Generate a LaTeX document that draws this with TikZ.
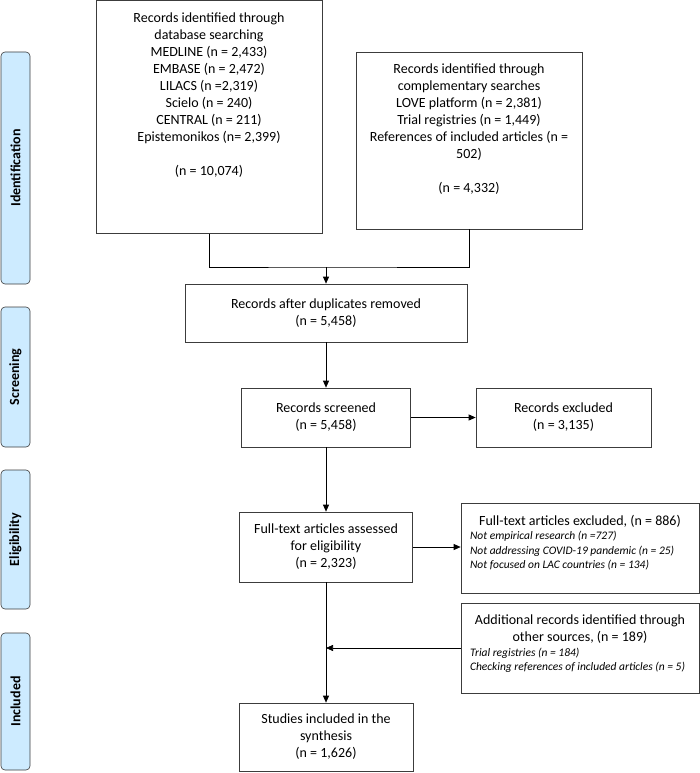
\documentclass[tikz,border=0pt]{standalone}
\usepackage{fontspec}
\setmainfont{Carlito}
\usetikzlibrary{positioning, arrows.meta}
\definecolor{sideblue}{RGB}{205,235,255}
\definecolor{boxline}{RGB}{60,60,60}
\newcommand{\notefont}{\fontsize{11.5}{14.5}\selectfont\itshape\raggedright}

\begin{document}
\begin{tikzpicture}[x=1pt, y=-1pt,
			box/.style={draw=boxline, line width=0.7pt, align=center, inner sep=0pt, font=\fontsize{14}{17}\selectfont},
			phase/.style={draw=boxline, fill=sideblue, line width=0.6pt, rounded corners=4pt, rotate=90, minimum height=29pt, inner sep=0pt, font=\fontsize{14}{17}\selectfont\bfseries},
			every path/.style={line width=0.7pt},
			->, >={Triangle[width=6pt,length=7pt]},
			]
			\useasboundingbox (0,0) rectangle (700,773);
			
			% Phasen
			\node[phase, minimum width=232pt] (Identification) at (15.5,168) {Identification};
			\node[phase, minimum width=140pt] (Screening) at (15.5,377) {Screening};
			\node[phase, minimum width=139pt] (Eligibility) at (15.5,539.5) {Eligibility};
			\node[phase, minimum width=137pt] (Included) at (15.5,701.5) {Included};
			
			% Kästen
			\node[box, minimum width=226pt, minimum height=233pt] (Database) at (209,117) {\parbox[c][209pt][t]{226pt}{\centering
				Records identified through\\ database searching\\ MEDLINE (n = 2,433)\\ EMBASE (n = 2,472)\\ LILACS (n =2,319)\\ Scielo (n = 240)\\ CENTRAL (n = 211)\\ Epistemonikos (n= 2,399)\\[17pt] (n = 10,074)}};
			\node[box, minimum width=226pt, minimum height=177pt] (Complementary) at (469,140.5) {\parbox[c][153pt][t]{226pt}{\centering
				Records identified through\\ complementary searches\\ LOVE platform (n = 2,381)\\ Trial registries (n = 1,449)\\ References of included articles (n =\\ 502)\\[17pt] (n = 4,332)}};
			\node[box, minimum width=282pt, minimum height=58pt] (Duplicates) at (326,313) {Records after duplicates removed\\ (n = 5,458)};
			\node[box, minimum width=169pt, minimum height=59pt] (Screened) at (326,417.5) {Records screened\\ (n = 5,458)};
			\node[box, minimum width=175pt, minimum height=59pt] (Excluded) at (563.5,417.5) {Records excluded\\ (n = 3,135)};
			\node[box, minimum width=173pt, minimum height=70pt] (Assessed) at (326,547) {Full-text articles assessed\\ for eligibility\\ (n = 2,323)};
			\node[box, minimum width=238pt, minimum height=90pt] (FulltextExcluded) at (580,548) {\parbox[c][66pt][t]{220pt}{{\centering
				Full-text articles excluded, (n = 886)\par}\notefont
				\mbox{Not empirical research (n =727)}\\ \mbox{Not addressing COVID-19 pandemic (n = 25)}\\ \mbox{Not focused on LAC countries (n = 134)}}};
			\node[box, minimum width=238pt, minimum height=90pt] (Additional) at (580,648) {\parbox[c][66pt][t]{220pt}{{\centering
				Additional records identified through\\ other sources, (n = 189)\par}\notefont
				\mbox{Trial registries (n = 184)}\\ \mbox{Checking references of included articles (n = 5)}}};
			\node[box, minimum width=174pt, minimum height=68pt] (Synthesis) at (326,737) {Studies included in the\\ synthesis\\ (n = 1,626)};
			
			% Verbindungen
			\coordinate (Merge) at (326,267);
			\draw[-] (Database.south) |- (Merge) -| (Complementary.south);
			\draw (Merge) -- (Duplicates);
			\draw (Duplicates) -- (Screened);
			\draw (Screened) -- (Excluded);
			\draw (Screened) -- (Assessed);
			\draw (Assessed.east) -- (Assessed.east -| FulltextExcluded.west);
			\draw (Additional.west) -- (Additional.west -| Assessed.south);
			\draw (Assessed) -- (Synthesis);
			
		\end{tikzpicture}
\end{document}
